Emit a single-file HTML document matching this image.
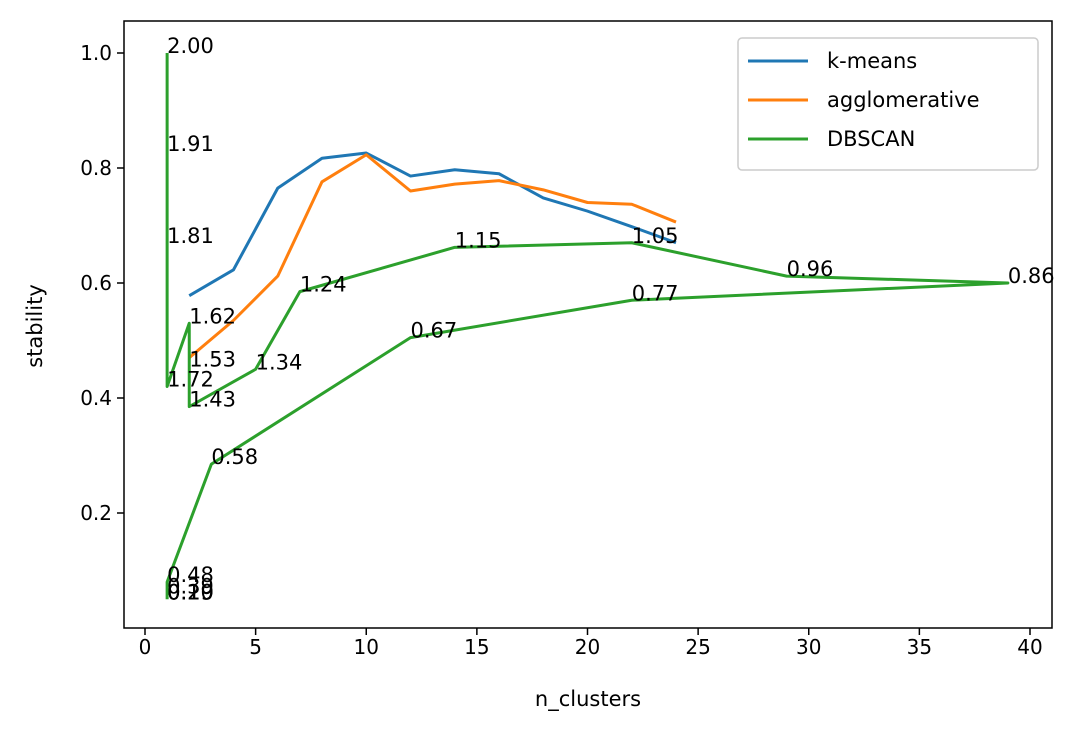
<!DOCTYPE html>
<html><head><meta charset="utf-8"><style>
body{margin:0;background:#fff;}
svg text{font-family:"DejaVu Sans","Liberation Sans",sans-serif;}
</style></head><body>
<svg id="chart" width="1092" height="735" xmlns="http://www.w3.org/2000/svg">
<rect width="1092" height="735" fill="#fff"/>
<g id="plot"></g>
</svg>
<script>
const kmX=[2,4,6,8,10,12,14,16,18,20,22,24];
const kmY=[0.578,0.623,0.765,0.817,0.826,0.786,0.797,0.790,0.748,0.725,0.698,0.670];
const agX=[2,4,6,8,10,12,14,16,18,20,22,24];
const agY=[0.470,0.535,0.612,0.776,0.823,0.760,0.772,0.778,0.762,0.740,0.737,0.706];
const dbX=[1,1,1,1,2,2,2,5,7,14,22,29,39,22,12,3,1,1,1,1,1];
const dbY=[1.0,0.83,0.67,0.42,0.53,0.455,0.385,0.45,0.585,0.662,0.670,0.612,0.600,0.570,0.505,0.285,0.08,0.06,0.05,0.05,0.05];
const dbLbl=["2.00","1.91","1.81","1.72","1.62","1.53","1.43","1.34","1.24","1.15","1.05","0.96","0.86","0.77","0.67","0.58","0.48","0.39","0.29","0.19","0.10"];
const xTicks=[0,5,10,15,20,25,30,35,40];
const yTicks=[0.2,0.4,0.6,0.8,1.0];
const L=124,R=1052,T=21,B=628;
const sx=v=>145+v*(1030-145)/40;
const sy=v=>628-v*575;
const NS="http://www.w3.org/2000/svg";
const g=document.getElementById('plot');
function mk(t,a){const e=document.createElementNS(NS,t);for(const k in a)e.setAttribute(k,a[k]);g.appendChild(e);return e;}
function line(xs,ys,c,name){
  const p=mk('polyline',{points:xs.map((x,i)=>sx(x)+','+sy(ys[i])).join(' '),fill:'none',stroke:c,'stroke-width':3,'stroke-linejoin':'round'});
  
  
}
line(kmX,kmY,'#1f77b4','kmeans-line');
line(agX,agY,'#ff7f0e','agglomerative-line');
line(dbX,dbY,'#2ca02c','dbscan-line');
dbLbl.forEach((s,i)=>{
  const t=mk('text',{x:sx(dbX[i]),y:sy(dbY[i]),'font-size':21,fill:'#000'});t.textContent=s;
  
  
});
const fr=mk('rect',{x:L,y:T,width:R-L,height:B-T,fill:'none',stroke:'#000','stroke-width':1.5});


xTicks.forEach(v=>{
  mk('line',{x1:sx(v),x2:sx(v),y1:B,y2:B+7,stroke:'#000','stroke-width':1.5});
  const t=mk('text',{x:sx(v),y:B+26,'font-size':20,'text-anchor':'middle'});t.textContent=v;
  
  
});
yTicks.forEach(v=>{
  mk('line',{x1:L-7,x2:L,y1:sy(v),y2:sy(v),stroke:'#000','stroke-width':1.5});
  const t=mk('text',{x:L-12,y:sy(v)+7,'font-size':20,'text-anchor':'end'});t.textContent=v.toFixed(1);
  
  
});
const xt=mk('text',{x:588,y:706,'font-size':21,'text-anchor':'middle'});xt.textContent='n_clusters';


const yt=mk('text',{x:42,y:326,'font-size':21,'text-anchor':'middle',transform:'rotate(-90 42 326)'});yt.textContent='stability';


const lg=mk('rect',{x:738,y:38,width:300,height:132,rx:4,fill:'#fff',stroke:'#ccc','stroke-width':1.5});


[['k-means','#1f77b4'],['agglomerative','#ff7f0e'],['DBSCAN','#2ca02c']].forEach((e,i)=>{
  const y=61+i*39;
  mk('line',{x1:748,x2:808,y1:y,y2:y,stroke:e[1],'stroke-width':3});
  const t=mk('text',{x:827,y:y+7,'font-size':21});t.textContent=e[0];
  
  
});
</script>
</body></html>
